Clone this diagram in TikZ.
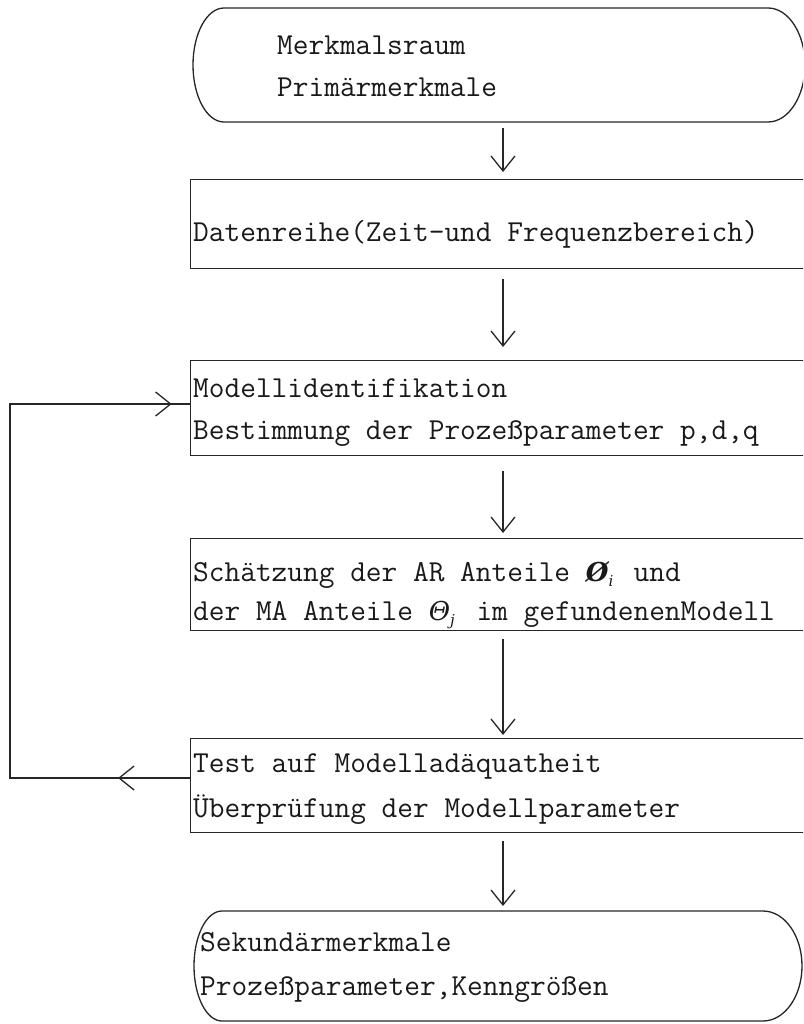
\documentclass[tikz,border=0pt]{standalone}
\usepackage{fontspec}
\newfontfamily\symf{DejaVu Serif}
\usetikzlibrary{arrows.meta,decorations.markings}
\tikzset{
  barb/.tip={Straight Barb[length=15pt,width=24pt,line width=1.3pt]},
  line/.style={line width=1.3pt,draw=black!85},
  arr/.style={line,-barb},
  lbl/.style={anchor=base west,inner sep=0pt,font=\fontsize{30.5}{36}\selectfont\ttfamily,text=black!90},
  boxnode/.style={line,rectangle,anchor=north west,minimum width=800pt,inner sep=0pt},
  ghost/.style={rectangle,anchor=north west,inner sep=0pt},
  fback/.style={line,postaction={decorate},decoration={markings,
    mark=at position 0.098 with {\arrow{barb}},
    mark=at position 0.975 with {\arrow{barb}}}}
}
\newcommand{\phisym}{\makebox[32pt][l]{{\fontsize{26}{26}\selectfont\symf\bfseries\itshape Ø}\raisebox{-5pt}{\fontsize{15}{15}\selectfont\symf\itshape i}}}
\newcommand{\thetasym}{\makebox[32pt][l]{{\fontsize{26}{26}\selectfont\symf\itshape Θ}\raisebox{-5pt}{\fontsize{15}{15}\selectfont\symf\itshape j}}}
\begin{document}
\begin{tikzpicture}[x=1pt,y=-1pt]
\useasboundingbox (0,0) rectangle (803,1024);
\clip (0,0) rectangle (803,1024);

% top terminal
\node[ghost,minimum width=612pt,minimum height=114pt] (s1) at (193,8) {};
\draw[line] (225,8) -- (768,8) arc[start angle=-90,end angle=90,x radius=37,y radius=57]
  -- (224,122) arc[start angle=90,end angle=270,x radius=31,y radius=57] -- cycle;
\node[lbl] (t1a) at (277,55) {Merkmalsraum};
\node[lbl] (t1b) at (277,97) {Primärmerkmale};

% process boxes
\node[boxnode,minimum height=89pt] (b2) at (190,179) {};
\node[lbl] (t2) at (193,241) {Datenreihe(Zeit-und Frequenzbereich)};

\node[boxnode,minimum height=95pt] (b3) at (190,360) {};
\node[lbl] (t3a) at (193,397) {Modellidentifikation};
\node[lbl] (t3b) at (193,439) {Bestimmung der Prozeßparameter p,d,q};

\node[boxnode,minimum height=92pt] (b4) at (190,538) {};
\node[lbl] (t4a) at (193,581) {Schätzung der AR Anteile \phisym{} und};
\node[lbl] (t4b) at (193,620) {der MA Anteile \thetasym{} im gefundenenModell};

\node[boxnode,minimum height=94pt] (b5) at (190,738) {};
\node[lbl] (t5a) at (193,772) {Test auf Modelladäquatheit};
\node[lbl] (t5b) at (193,817) {Überprüfung der Modellparameter};

% bottom terminal
\node[ghost,minimum width=610pt,minimum height=110pt] (s2) at (194,911) {};
\draw[line] (222,911) -- (763,911) arc[start angle=-90,end angle=90,x radius=39,y radius=55]
  -- (222,1021) arc[start angle=90,end angle=270,x radius=28,y radius=55] -- cycle;
\node[lbl] (t6a) at (200,951) {Sekundärmerkmale};
\node[lbl] (t6b) at (200,995) {Prozeßparameter,Kenngrößen};

% main flow
\coordinate (ax) at (503,0);
\draw[arr] ([yshift=-6pt]s1.south -| ax) -- ([yshift=7pt]b2.north -| ax);
\draw[arr] ([yshift=-10pt]b2.south -| ax) -- ([yshift=13pt]b3.north -| ax);
\draw[arr] ([yshift=-15pt]b3.south -| ax) -- ([yshift=5pt]b4.north -| ax);
\draw[arr] ([yshift=-8pt]b4.south -| ax) -- ([yshift=3pt]b5.north -| ax);
\draw[arr] ([yshift=-8pt]b5.south -| ax) -- ([yshift=5pt]s2.north -| ax);

% feedback loop
\coordinate (fbl) at (10,778);
\coordinate (fbt) at (10,404);
\draw[fback] (b5.west |- fbl) -- (fbl) -- (fbt) -- (b3.west |- fbt);
\end{tikzpicture}
\end{document}
